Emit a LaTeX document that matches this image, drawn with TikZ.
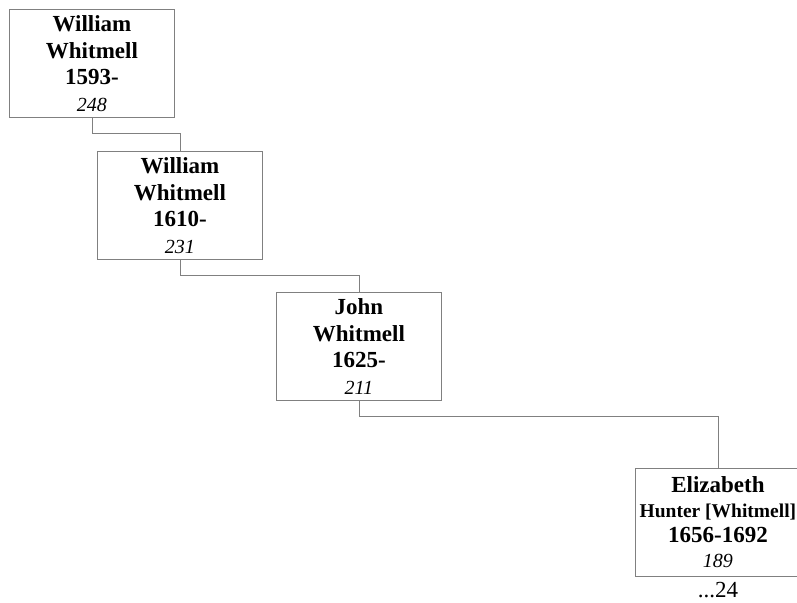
\documentclass[tikz,border=0pt]{standalone}
\usepackage{fontspec}
\setmainfont{Liberation Serif}
\usepackage{tikz}
\usetikzlibrary{positioning}
\definecolor{boxgray}{gray}{0.5}

\begin{document}
\begin{tikzpicture}[x=1pt, y=-1pt,
    personbox/.style={draw=boxgray, line width=0.9pt, rectangle, anchor=north west,
      minimum width=165pt, minimum height=108pt, inner xsep=0pt, inner ysep=0pt,
      align=center, font=\bfseries\fontsize{23}{26.5}\selectfont},
    famline/.style={draw=boxgray, line width=0.9pt}]
  \useasboundingbox (0,0) rectangle (797,602);
  \def\refno#1{{\mdseries\itshape\fontsize{20}{24}\selectfont #1}}

  % one box per generation, stepping down to the right
  \node[personbox] (will1) at (9,9)    {William\\Whitmell\\1593-\\\refno{248}};
  \node[personbox] (will2) at (97,151) {William\\Whitmell\\1610-\\\refno{231}};
  \node[personbox] (john)  at (276,292) {John\\Whitmell\\1625-\\\refno{211}};
  \node[personbox, font=\bfseries\fontsize{23}{25}\selectfont] (eliz) at (635,468)
    {Elizabeth\\\makebox[150pt]{\fontsize{19.5}{25}\selectfont Hunter [Whitmell]}\\1656-1692\\\refno{189}};
  \node[anchor=base, inner sep=0pt, yshift=-21pt, font=\fontsize{23}{26}\selectfont] (more) at (eliz.south) {...24};

  % parent to child links
  \draw[famline] (will1.south) -- ++(0,16) -| (will2.north);
  \draw[famline] (will2.south) -- ++(0,16) -| (john.north);
  \draw[famline] (john.south) -- ++(0,16) -| (eliz.north);
\end{tikzpicture}
\end{document}
